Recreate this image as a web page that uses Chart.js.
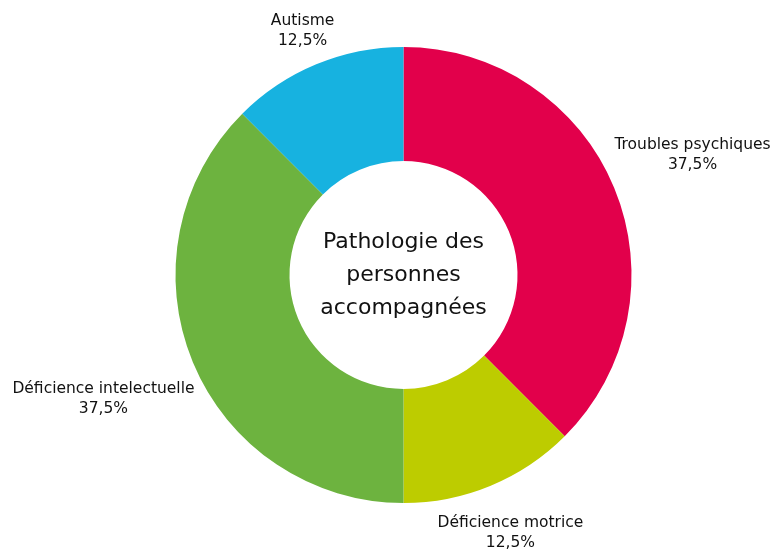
<!DOCTYPE html>
<html>
<head>
<meta charset="utf-8">
<script src="https://cdn.jsdelivr.net/npm/chart.js@4/dist/chart.umd.min.js"></script>
<style>
  html, body { margin: 0; padding: 0; background: #fff; }
  #wrap { width: 775px; height: 552px; position: relative; }
</style>
</head>
<body>
<div id="wrap"><canvas id="chart"></canvas></div>
<script>
const CATEGORIES = ["Troubles psychiques", "Déficience motrice", "Déficience intelectuelle", "Autisme"];
const SHARES = [37.5, 12.5, 37.5, 12.5];
const COLORS = ["#e2004b", "#bdcc00", "#6db33f", "#17b2e0"];
const CENTER_LINES = ["Pathologie des", "personnes", "accompagnées"];

const FONT = '"DejaVu Sans", sans-serif';
const TEXT_COLOR = "#111";

function fmtPct(v) {
  return v.toFixed(1).replace(".", ",") + "%";
}

// labels outside each slice, box pushed outward along the mid angle
const outsideLabels = {
  id: "outsideLabels",
  afterDraw(chart) {
    const ctx = chart.ctx;
    const meta = chart.getDatasetMeta(0);
    const lineH = 20;
    ctx.save();
    ctx.font = "15.5px " + FONT;
    ctx.fillStyle = TEXT_COLOR;
    ctx.textAlign = "center";
    ctx.textBaseline = "middle";
    meta.data.forEach((arc, i) => {
      const p = arc.getProps(["x", "y", "startAngle", "endAngle", "outerRadius"], true);
      const mid = (p.startAngle + p.endAngle) / 2;
      const cx = Math.cos(mid), cy = Math.sin(mid);
      const lines = [CATEGORIES[i], fmtPct(SHARES[i])];
      const w = Math.max(...lines.map((t) => ctx.measureText(t).width));
      const h = lines.length * lineH;
      const base = p.outerRadius + 5;
      const dist = base + Math.abs(cx) * w / 2 + Math.abs(cy) * h / 2;
      const x = p.x + cx * dist;
      const y = p.y + cy * dist;
      lines.forEach((t, k) => {
        ctx.fillText(t, x, y + (k - (lines.length - 1) / 2) * lineH);
      });
    });
    ctx.restore();
  },
};

const centerText = {
  id: "centerText",
  afterDraw(chart) {
    const ctx = chart.ctx;
    const arc = chart.getDatasetMeta(0).data[0];
    const lineH = 33;
    ctx.save();
    ctx.font = "22px " + FONT;
    ctx.fillStyle = TEXT_COLOR;
    ctx.textAlign = "center";
    ctx.textBaseline = "middle";
    CENTER_LINES.forEach((t, k) => {
      ctx.fillText(t, arc.x, arc.y + (k - (CENTER_LINES.length - 1) / 2) * lineH);
    });
    ctx.restore();
  },
};

new Chart(document.getElementById("chart"), {
  type: "doughnut",
  data: {
    labels: CATEGORIES,
    datasets: [
      {
        data: SHARES,
        backgroundColor: COLORS,
        borderWidth: 0,
      },
    ],
  },
  options: {
    responsive: true,
    maintainAspectRatio: false,
    animation: false,
    cutout: "50%",
    layout: { padding: { top: 47, bottom: 49, left: 175, right: 143 } },
    plugins: {
      legend: { display: false },
      tooltip: { enabled: false },
    },
  },
  plugins: [outsideLabels, centerText],
});
</script>
</body>
</html>
